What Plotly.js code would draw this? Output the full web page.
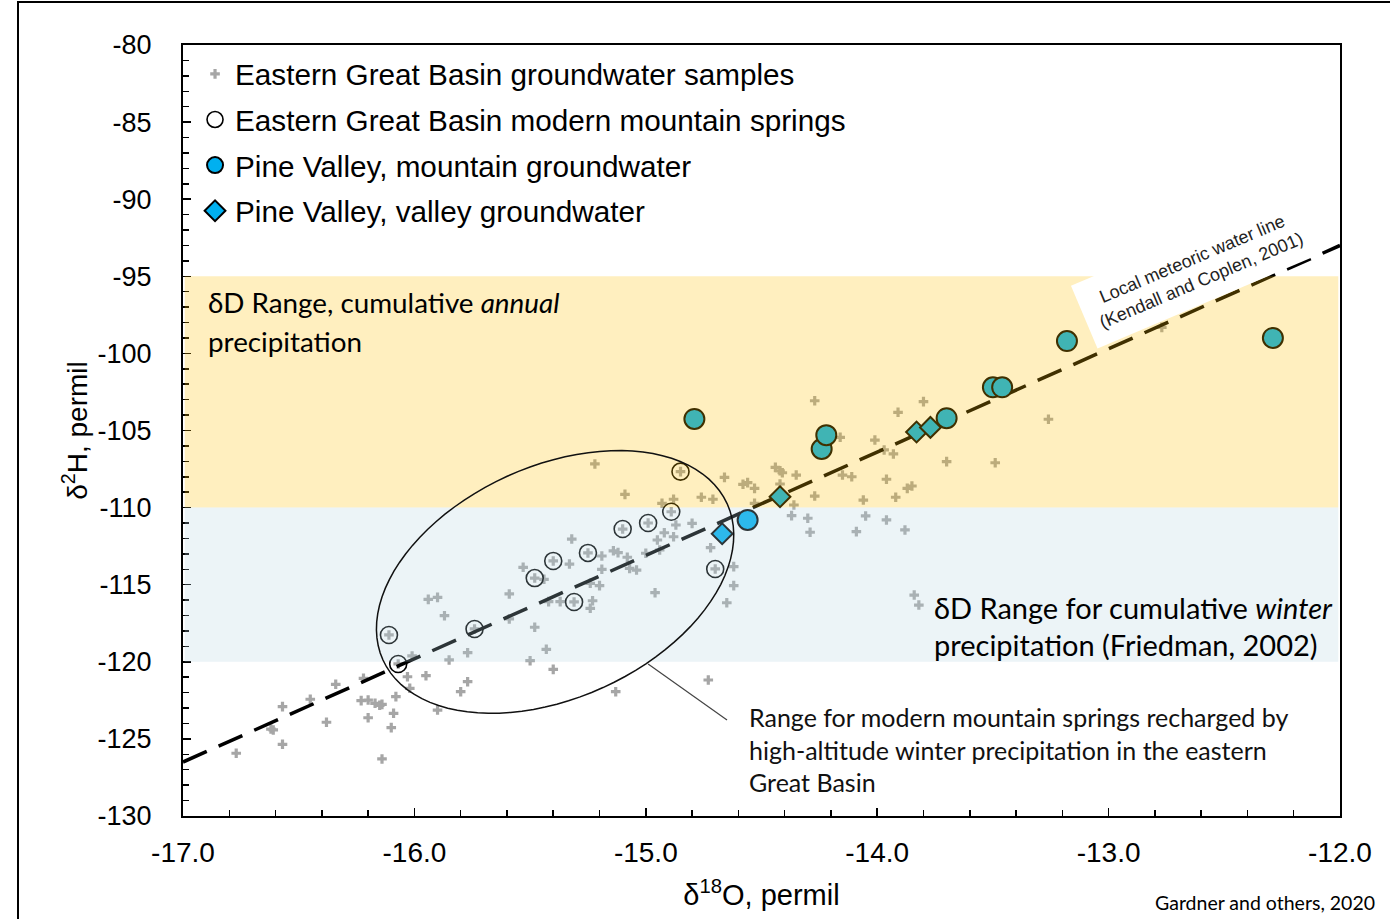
<!DOCTYPE html>
<html>
<head>
<meta charset="utf-8">
<script src="https://cdn.plot.ly/plotly-3.0.1.min.js"></script>
<style>html,body{margin:0;padding:0;background:#fff;}</style>
</head>
<body>
<div id="chart" style="width:1390px;height:919px;"></div>
<script>
// ---- Data (delta18O, delta2H in permil) ----
const groundwaterX = [-15.22,-15.09,-14.93,-14.88,-14.85,-14.66,-14.76,-14.71,-14.58,-14.56,-14.53,-14.53,-14.89,-14.80,-14.87,-14.92,-14.88,-14.95,-15.32,-15.33,-15.53,-15.44,-15.19,-15.14,-15.12,-15.08,-15.00,-14.94,-15.07,-15.04,-15.19,-15.24,-15.20,-14.96,-15.59,-15.42,-15.37,-15.23,-15.24,-14.72,-14.62,-14.62,-14.65,-15.94,-15.90,-15.87,-15.59,-15.48,-15.43,-15.50,-15.40,-14.73,-15.13,
  -16.11,-16.07,-15.74,-15.48,-15.40,-15.31,-15.25,-15.10,-14.99,-14.70,
  -16.01,-16.03,-15.95,-16.02,-16.08,-16.09,-16.10,-16.14,-16.22,-16.23,-16.20,-16.17,-16.15,-16.14,-16.20,-16.34,-16.45,-16.57,-16.38,-16.62,-16.61,-16.57,-16.77,-15.85,-15.77,-15.77,-15.80,-15.90,
  -14.27,-13.80,-13.91,-14.16,-14.01,-13.97,-13.93,-13.70,-13.49,-14.44,-14.42,-14.41,-14.35,-14.15,-14.11,-13.96,-13.85,-13.87,-14.42,-14.36,-14.27,-14.06,-13.92,-14.37,-14.30,-14.29,-14.05,-13.96,-14.09,-13.88,
  -13.26,-12.77,-13.84,-13.82];
const groundwaterY = [-107.17,-109.14,-109.72,-109.46,-107.67,-108.04,-109.33,-109.46,-108.49,-108.38,-108.75,-109.72,-110.27,-111.02,-111.13,-111.63,-111.89,-112.10,-112.04,-113.66,-113.87,-114.65,-113.14,-112.80,-112.92,-113.22,-112.96,-112.75,-113.94,-114.05,-114.00,-114.91,-115.06,-115.52,-115.60,-116.10,-116.10,-116.04,-116.53,-112.60,-113.83,-115.06,-116.17,-115.95,-115.82,-117.01,-117.22,-117.76,-119.19,-119.93,-120.49,-121.18,-121.94,
  -118.26,-120.14,-117.87,-114.57,-113.46,-116.12,-112.94,-111.39,-111.00,-113.98,
  -119.62,-120.97,-120.90,-121.72,-122.26,-123.34,-124.27,-126.30,-121.07,-122.52,-122.48,-122.69,-122.82,-122.76,-123.63,-121.46,-122.43,-122.91,-123.92,-124.36,-124.42,-125.35,-125.93,-119.88,-119.41,-121.29,-121.94,-123.13,
  -103.07,-103.13,-103.82,-105.44,-105.62,-106.26,-106.52,-107.02,-107.09,-107.39,-107.61,-107.74,-107.89,-107.89,-108.00,-108.16,-108.60,-108.75,-108.47,-109.83,-109.25,-109.51,-109.33,-110.52,-110.69,-111.60,-110.54,-110.80,-111.56,-111.45,
  -104.27,-98.31,-115.67,-116.32];

const springsX = [-16.11,-16.07,-15.74,-15.48,-15.40,-15.31,-15.25,-15.10,-14.99,-14.89,-14.85,-14.70];
const springsY = [-118.26,-120.14,-117.87,-114.57,-113.46,-116.12,-112.94,-111.39,-111.00,-110.27,-107.67,-113.98];

const pvMountainX = [-14.79,-14.56,-14.24,-14.22,-13.70,-13.50,-13.46,-13.18,-12.29];
const pvMountainY = [-104.25,-110.8,-106.2,-105.3,-104.2,-102.2,-102.2,-99.2,-99.0];

const pvValleyX = [-14.67,-14.42,-13.83,-13.77];
const pvValleyY = [-111.7,-109.3,-105.1,-104.8];

const lmwlX = [-17.0, -12.0];
const lmwlY = [-126.5, -93.0];

const xTickVals = [-17,-16,-15,-14,-13,-12];
const xTickText = ['-17.0','-16.0','-15.0','-14.0','-13.0','-12.0'];
const yTickVals = [-130,-125,-120,-115,-110,-105,-100,-95,-90,-85,-80];
const yTickText = ['-130','-125','-120','-115','-110','-105','-100','-95','-90','-85','-80'];

const seriesNames = ['Eastern Great Basin groundwater samples','Eastern Great Basin modern mountain springs','Pine Valley, mountain groundwater','Pine Valley, valley groundwater'];

// ---- Layout geometry ----
const W = 1390, H = 919;
const M = {l:183, r:50, t:45, b:103};
const plotW = W - M.l - M.r, plotH = H - M.t - M.b;
const pxPerX = plotW / 5, pxPerY = plotH / 50;

// ellipse outline (annotation drawing)
function ellipsePath(cx, cy, a, b, angDeg) {
  const th = angDeg * Math.PI / 180;
  const pts = [];
  for (let i = 0; i <= 96; i++) {
    const t = 2 * Math.PI * i / 96;
    const u = a * Math.cos(t), v = b * Math.sin(t);
    const dx = u * Math.cos(th) - v * Math.sin(th);
    const dy = u * Math.sin(th) + v * Math.cos(th);
    pts.push((cx + dx / pxPerX).toFixed(4) + ',' + (cy + dy / pxPerY).toFixed(4));
  }
  return 'M' + pts.join('L') + 'Z';
}

const AX = 'Liberation Sans, Arial, sans-serif';
const CAL = 'Lato, Open Sans, sans-serif';

const traces = [
  {x: groundwaterX, y: groundwaterY, type:'scatter', mode:'markers', name: seriesNames[0], legendgroup:'g1',
   marker:{symbol:'cross', size:8, color:'#a6a6a6', line:{width:0}}},
  {x: lmwlX, y: lmwlY, type:'scatter', mode:'lines', showlegend:false,
   line:{color:'#000', width:3.5, dash:'26px,13px'}},
  {x: springsX, y: springsY, type:'scatter', mode:'markers', name: seriesNames[1], legendgroup:'g2',
   marker:{symbol:'circle-open', size:17, color:'#000', line:{width:1.6, color:'#000'}}},
  {x: pvMountainX, y: pvMountainY, type:'scatter', mode:'markers', name: seriesNames[2], legendgroup:'g3',
   marker:{symbol:'circle', size:20, color:'#00B0F0', line:{width:2, color:'#000'}}},
  {x: pvValleyX, y: pvValleyY, type:'scatter', mode:'markers', name: seriesNames[3], legendgroup:'g4',
   marker:{symbol:'diamond', size:16, color:'#00B0F0', line:{width:2, color:'#000'}}}
];

const layout = {
  width: W, height: H,
  margin: M,
  paper_bgcolor:'#fff', plot_bgcolor:'#fff',
  showlegend: true,
  legend: {x: 0.0104, xanchor:'left', y: 0.996, yanchor:'top', bgcolor:'rgba(0,0,0,0)',
           font:{family: AX, size: 29.7, color:'#000'}, itemsizing:'trace', tracegroupgap: 4, traceorder:'grouped'},
  xaxis: {range:[-17,-12], tickmode:'array', tickvals: xTickVals, ticktext: xTickText,
          ticks:'inside', ticklen:8, tickwidth:1.5, tickcolor:'#000',
          showline:true, linecolor:'#000', linewidth:2, mirror:true,
          showgrid:false, zeroline:false, ticklabelstandoff: 10,
          tickfont:{family: AX, size:28, color:'#000'},
          minor:{tick0:-17, dtick:0.2, ticks:'inside', ticklen:6, tickwidth:1.5, tickcolor:'#000', showgrid:false},
          title:{text:'δ<sup>18</sup>O, permil', font:{family: AX, size:29, color:'#000'}, standoff: 18}},
  yaxis: {range:[-130,-80], tickmode:'array', tickvals: yTickVals, ticktext: yTickText,
          ticks:'inside', ticklen:8, tickwidth:1.5, tickcolor:'#000',
          showline:true, linecolor:'#000', linewidth:2, mirror:true,
          showgrid:false, zeroline:false, ticklabelstandoff: 24,
          tickfont:{family: AX, size:27, color:'#000'},
          minor:{tick0:-130, dtick:1, ticks:'inside', ticklen:6, tickwidth:1.5, tickcolor:'#000', showgrid:false},
          title:{text:'δ<sup>2</sup>H, permil', font:{family: AX, size:28, color:'#000'}, standoff: 2}},
  shapes: [
    {type:'rect', layer:'above', xref:'paper', yref:'y', x0:0.0015, x1:0.9985, y0:-110, y1:-95,
     fillcolor:'rgba(255,192,0,0.25)', line:{width:0}},
    {type:'rect', layer:'above', xref:'paper', yref:'y', x0:0.0015, x1:0.9985, y0:-120, y1:-110,
     fillcolor:'rgba(180,211,225,0.25)', line:{width:0}},
    {type:'path', layer:'above', xref:'x', yref:'y', path: ellipsePath(-15.392, -114.82, 189, 116, 24.4),
     line:{color:'#111', width:1.5}},
    {type:'line', layer:'above', xref:'x', yref:'y', x0:-14.99, y0:-120.14, x1:-14.649, y1:-123.77,
     line:{color:'#444', width:1.2}},
    {type:'rect', layer:'above', xref:'paper', yref:'paper',
     x0:(18 - M.l)/plotW, x1:(1398 - M.l)/plotW, y0:(M.t + plotH - 930)/plotH, y1:(M.t + plotH - 2)/plotH,
     line:{color:'#000', width:2}, fillcolor:'rgba(0,0,0,0)'}
  ],
  annotations: [
    {xref:'x', yref:'y', x:-16.90, y:-96.73, xanchor:'left', yanchor:'middle', showarrow:false,
     text:'δD Range, cumulative <i>annual</i>', font:{family: CAL, size:27.8, color:'#000'}},
    {xref:'x', yref:'y', x:-16.90, y:-99.20, xanchor:'left', yanchor:'middle', showarrow:false,
     text:'precipitation', font:{family: CAL, size:27.8, color:'#000'}},
    {xref:'x', yref:'y', x:-13.763, y:-116.45, xanchor:'left', yanchor:'middle', showarrow:false,
     text:'δD Range for cumulative <i>winter</i>', font:{family: CAL, size:29, color:'#000'}},
    {xref:'x', yref:'y', x:-13.763, y:-118.91, xanchor:'left', yanchor:'middle', showarrow:false,
     text:'precipitation (Friedman, 2002)', font:{family: CAL, size:29, color:'#000'}},
    {xref:'x', yref:'y', x:-14.563, y:-123.55, xanchor:'left', yanchor:'middle', showarrow:false,
     text:'Range for modern mountain springs recharged by', font:{family: CAL, size:25, color:'#111'}},
    {xref:'x', yref:'y', x:-14.563, y:-125.70, xanchor:'left', yanchor:'middle', showarrow:false,
     text:'high-altitude winter precipitation in the eastern', font:{family: CAL, size:25, color:'#111'}},
    {xref:'x', yref:'y', x:-14.563, y:-127.80, xanchor:'left', yanchor:'middle', showarrow:false,
     text:'Great Basin', font:{family: CAL, size:25, color:'#111'}},
    {xref:'x', yref:'y', x:-12.62, y:-94.55, xanchor:'center', yanchor:'middle', showarrow:false,
     textangle:-23, bgcolor:'#fff', borderpad:12, align:'center',
     text:'Local meteoric water line<br>(Kendall and Coplen, 2001)', font:{family: AX, size:18, color:'#222'}},
    {xref:'paper', yref:'paper', x:(1377 - M.l)/plotW, y:(M.t + plotH - 902)/plotH, xanchor:'right', yanchor:'middle',
     showarrow:false, text:'Gardner and others, 2020', font:{family: CAL, size:19.5, color:'#000'}}
  ]
};

Plotly.newPlot('chart', traces, layout, {staticPlot:true, displayModeBar:false});
</script>
</body>
</html>
